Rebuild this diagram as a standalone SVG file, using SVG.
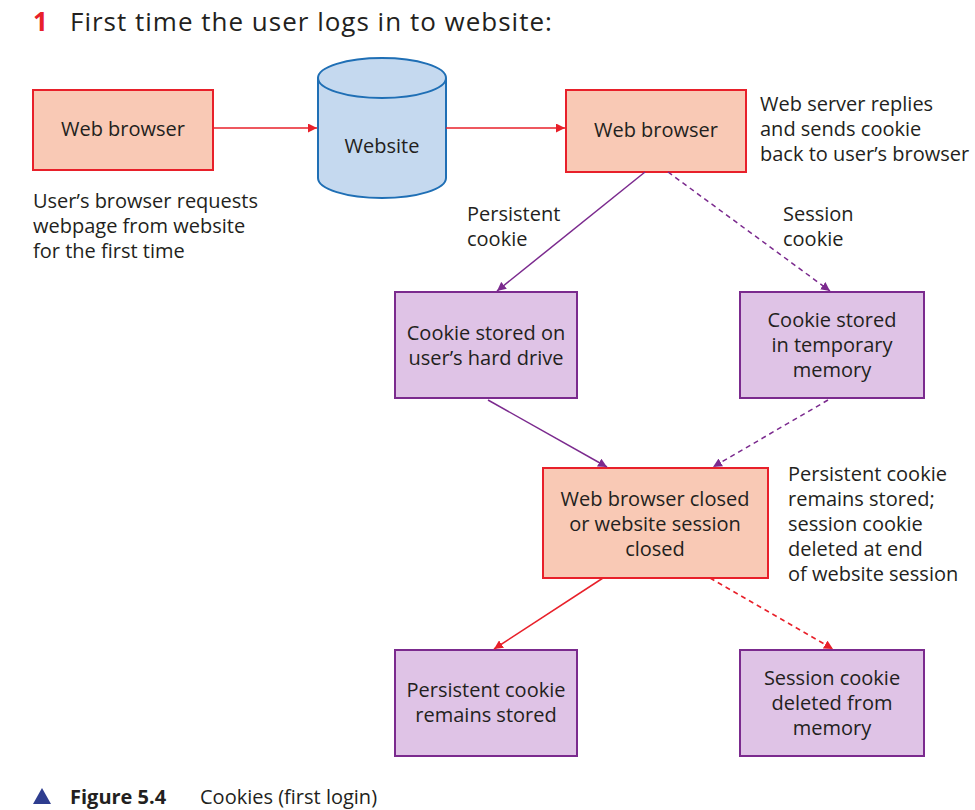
<svg xmlns="http://www.w3.org/2000/svg" width="975" height="810" viewBox="0 0 975 810">
<style>
text{font-family:"Open Sans","Noto Sans",sans-serif;font-size:20px;fill:#231f20}
.c{text-anchor:middle}
.sal{fill:#f9c9b5;stroke:#e8202a;stroke-width:2}
.pur{fill:#dfc3e6;stroke:#7b2a8e;stroke-width:2}
.r{stroke:#e8202a;stroke-width:1.5;fill:none}
.p{stroke:#7b2a8e;stroke-width:1.5;fill:none}
.d{stroke-dasharray:5,4}
</style>
<defs>
<marker id="ar" viewBox="0 0 10 10" refX="10" refY="5" markerWidth="9" markerHeight="9" markerUnits="userSpaceOnUse" orient="auto"><path d="M0,0L10,5L0,10z" fill="#e8202a"/></marker>
<marker id="ap" viewBox="0 0 10 10" refX="10" refY="5" markerWidth="9" markerHeight="9" markerUnits="userSpaceOnUse" orient="auto"><path d="M0,0L10,5L0,10z" fill="#7b2a8e"/></marker>
</defs>
<text x="33" y="31" style="font-size:26px;font-weight:bold;fill:#e8202a">1</text>
<text x="70" y="31" style="font-size:26px;letter-spacing:1px">First time the user logs in to website:</text>
<g id="n1"><rect class="sal" x="33" y="90" width="180" height="80"/><text class="c" x="123" y="136">Web browser</text></g>
<g id="n2"><path d="M318,78 V178 A64,20 0 0 0 446,178 V78 A64,20 0 0 0 318,78 A64,20 0 0 0 446,78" fill="#c5d9ef" stroke="#1f6fb5" stroke-width="2"/><text class="c" x="382" y="153">Website</text></g>
<g id="n3"><rect class="sal" x="566" y="90" width="180" height="82"/><text class="c" x="656" y="137">Web browser</text></g>
<g id="n4"><rect class="pur" x="395" y="292" width="182" height="106"/><text class="c" x="486" y="340">Cookie stored on</text><text class="c" x="486" y="365">user’s hard drive</text></g>
<g id="n5"><rect class="pur" x="740" y="292" width="184" height="106"/><text class="c" x="832" y="327">Cookie stored</text><text class="c" x="832" y="352">in temporary</text><text class="c" x="832" y="377">memory</text></g>
<g id="n6"><rect class="sal" x="543" y="468" width="225" height="110"/><text class="c" x="655" y="506">Web browser closed</text><text class="c" x="655" y="531">or website session</text><text class="c" x="655" y="556">closed</text></g>
<g id="n7"><rect class="pur" x="395" y="650" width="182" height="106"/><text class="c" x="486" y="697">Persistent cookie</text><text class="c" x="486" y="722">remains stored</text></g>
<g id="n8"><rect class="pur" x="740" y="650" width="184" height="106"/><text class="c" x="832" y="685">Session cookie</text><text class="c" x="832" y="710">deleted from</text><text class="c" x="832" y="735">memory</text></g>
<g id="connectors">
<line class="r" x1="213" y1="128" x2="317" y2="128" marker-end="url(#ar)"/>
<line class="r" x1="446" y1="128" x2="565" y2="128" marker-end="url(#ar)"/>
<line class="p" x1="645" y1="172" x2="497" y2="291" marker-end="url(#ap)"/>
<line class="p d" x1="668" y1="172" x2="830" y2="291" marker-end="url(#ap)"/>
<line class="p" x1="488" y1="400" x2="607" y2="467" marker-end="url(#ap)"/>
<line class="p d" x1="828" y1="400" x2="713" y2="467" marker-end="url(#ap)"/>
<line class="r" x1="603" y1="578" x2="494" y2="649" marker-end="url(#ar)"/>
<line class="r d" x1="710" y1="578" x2="833" y2="649" marker-end="url(#ar)"/>
</g>
<text x="760" y="111">Web server replies</text><text x="760" y="136">and sends cookie</text><text x="760" y="161">back to user’s browser</text>
<text x="33" y="208">User’s browser requests</text><text x="33" y="233">webpage from website</text><text x="33" y="258">for the first time</text>
<text x="467" y="221">Persistent</text><text x="467" y="246">cookie</text>
<text x="783" y="221">Session</text><text x="783" y="246">cookie</text>
<text x="788" y="481">Persistent cookie</text><text x="788" y="506">remains stored;</text><text x="788" y="531">session cookie</text><text x="788" y="556">deleted at end</text><text x="788" y="581">of website session</text>
<path d="M33,804 L42,788 L51,804z" fill="#2e3d8f"/>
<text x="70" y="804" style="font-weight:bold">Figure 5.4</text><text x="200" y="804">Cookies (first login)</text>
</svg>
